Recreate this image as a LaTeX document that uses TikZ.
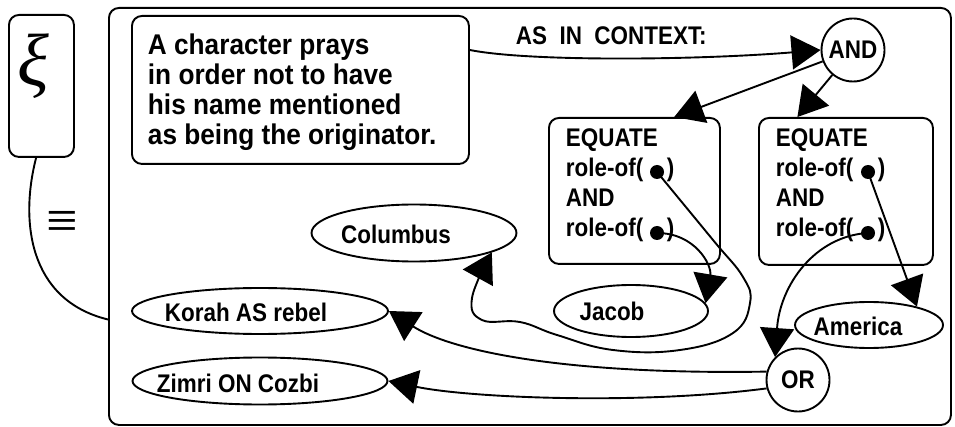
\documentclass[tikz,border=0pt]{standalone}
\usepackage{fontspec}
\setmainfont{Liberation Sans}[FakeStretch=0.92]
\newfontfamily\labelfont{Liberation Sans}[FakeStretch=0.88]
\newfontfamily\greekfont{Liberation Serif}
\usetikzlibrary{arrows.meta,shapes.geometric,calc}

\begin{document}
\begin{tikzpicture}[x=1pt,y=-1pt,
  line width=1.9pt,
  box/.style={draw, rounded corners=10pt, inner sep=0pt, anchor=north west},
  big/.style={font=\fontsize{28.5}{30}\selectfont\bfseries, inner sep=0pt, anchor=base west},
  lbl/.style={font=\fontsize{25.5}{28}\selectfont\labelfont\bfseries, inner sep=0pt},
  row/.style={lbl, anchor=base west},
  oval/.style={draw, ellipse, inner sep=0pt},
  ring/.style={draw, circle, minimum size=63pt, inner sep=0pt,
               font=\fontsize{25.5}{28}\selectfont\labelfont\bfseries},
  dot/.style={circle, fill, inner sep=0pt, minimum size=14pt},
  arr/.style={-{Triangle[length=29pt,width=34pt]}},
]
\useasboundingbox (0,0) rectangle (955,427);

% symbol box on the left and its link to the frame
\node[box, minimum width=65pt, minimum height=142pt] (xib) at (8,14) {};
\node[font=\fontsize{74}{74}\selectfont\greekfont\itshape, inner sep=0pt] (xi) at (33,66) {ξ};
\node[font=\fontsize{56}{56}\selectfont\greekfont, inner sep=0pt] (eq) at (62,225) {≡};

% outer frame
\node[box, minimum width=842pt, minimum height=417pt] (mb) at (108,7) {};

% description box
\node[box, minimum width=337pt, minimum height=148pt] (tb) at (131,15) {};
\node[big] (t1) at (147,55) {A character prays};
\node[big] (t2) at (147,85) {in order not to have};
\node[big] (t3) at (147,115) {his name mentioned};
\node[big] (t4) at (147,145) {as being the originator.};

\node[row] (ctx) at (515,45) {AS~~IN~~CONTEXT:};
\node[ring] (andc) at (853,50) {AND};

% left EQUATE box
\node[box, minimum width=171pt, minimum height=146pt] (lb) at (548,117) {};
\node[row] (l1) at (565,147) {EQUATE};
\node[row] (l2) at (565,177) {role-of(};
\node[dot] (ld1) at (657,172) {};
\node[row] (l2p) at (666,177) {)};
\node[row] (l3) at (565,207) {AND};
\node[row] (l4) at (565,237) {role-of(};
\node[dot] (ld2) at (657,233) {};
\node[row] (l4p) at (666,237) {)};

% right EQUATE box
\node[box, minimum width=174pt, minimum height=147pt] (rb) at (758,117) {};
\node[row] (r1) at (775,147) {EQUATE};
\node[row] (r2) at (775,177) {role-of(};
\node[dot] (rd1) at (868,172) {};
\node[row] (r2p) at (877,177) {)};
\node[row] (r3) at (775,207) {AND};
\node[row] (r4) at (775,237) {role-of(};
\node[dot] (rd2) at (868,233) {};
\node[row] (r4p) at (877,237) {)};

% referents
\node[oval, minimum width=205pt, minimum height=57pt] (col) at (414,233) {};
\node[lbl] (colt) at (396,234) {Columbus};
\node[oval, minimum width=154pt, minimum height=52pt] (jac) at (631,311) {};
\node[lbl] (jact) at (612,311) {Jacob};
\node[oval, minimum width=148pt, minimum height=46pt] (am) at (869,325) {};
\node[lbl] (amt) at (858,326) {America};
\node[oval, minimum width=256pt, minimum height=46pt] (kor) at (260,311) {};
\node[lbl] (kort) at (246,312) {Korah AS rebel};
\node[oval, minimum width=255pt, minimum height=47pt] (zim) at (260,381) {};
\node[lbl] (zimt) at (238,383) {Zimri ON Cozbi};
\node[ring] (orc) at (798,380) {OR};

% connectors
\draw ($(xib.south west)!0.42!(xib.south east)$) .. controls (20,220) and (28,300)
      .. ($(mb.north west)!0.746!(mb.south west)$);
\draw[arr] (tb.east |- andc.west) .. controls (530,62) and (700,60) .. (andc.west);
\draw[arr] (andc) -- ($(lb.north west)!0.73!(lb.north east)$);
\draw[arr] (andc) -- ($(rb.north west)!0.224!(rb.north east)$);
\draw[arr] plot[smooth, tension=0.7] coordinates {(ld1.center) (713,240) (743,277)
      (750,303) (733,333) (680,350) (613,350) (557,335) (520,322) (482,320)
      (472,298) (col.-14)};
\draw[arr] (ld2.center) .. controls (695,233) and (712,265) .. (jac.6);
\draw[arr] (rd1.center) -- (am.21);
\draw[arr] (rd2.center) .. controls (815,236) and (780,285) .. (orc.north west);
\draw[arr] (orc.165) .. controls (560,375) and (450,350) .. (kor.east);
\draw[arr] (orc.195) .. controls (640,405) and (470,398) .. (zim.east);
\end{tikzpicture}
\end{document}
